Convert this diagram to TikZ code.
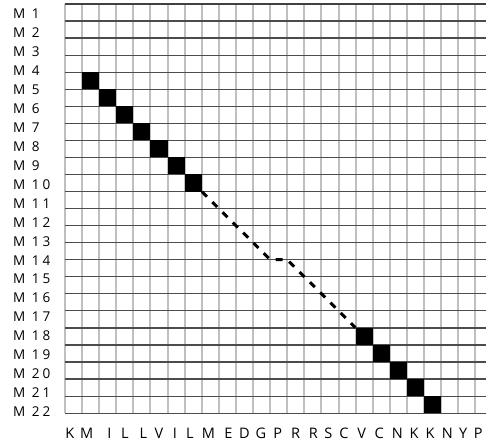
\documentclass[tikz,border=0pt]{standalone}
\usepackage{fontspec}
\setmainfont{Open Sans}[LetterSpace=22]

\begin{document}
\begin{tikzpicture}[x=0.6cm, y=0.5982cm,
  cell/.style={fill=black, inner sep=0pt, minimum width=0.6cm, minimum height=0.5982cm},
  rowlabel/.style={anchor=west, inner sep=0pt, font=\fontsize{13.5}{13.5}\selectfont},
  collabel/.style={inner sep=0pt, font=\fontsize{14.5}{14.5}\selectfont},
  trace/.style={line width=3pt, dash pattern=on 7pt off 7.5pt}]
  \useasboundingbox (-3.801,-25.69) rectangle (24.62,0.2346);

  % grid
  \foreach \i in {0,...,24}
    \draw[gray!50, line width=2pt] (\i,0) -- (\i,-24);
  \foreach \j in {1,...,24}
    \draw[black!70, line width=1.2pt] (0,-\j) -- (24.62,-\j);
  \draw[black!75, line width=1.5pt] (0,0) -- (24.62,0);

  % matching cells
  \foreach \k in {5,...,11}
    \node[cell] (s\k) at (\k-3.5, -\k+0.5) {};
  \foreach \k in {20,...,24}
    \node[cell] (s\k) at (\k-2.5, -\k+0.5) {};

  % gap
  \coordinate (b1) at (12,-15);
  \coordinate (b2) at (13,-15);
  \draw[trace] (s11.south east) -- (b1) -- (b2) -- (s20.north west);

  % labels
  \foreach \n in {1,...,22}
    \node[rowlabel] (m\n) at (-3.041, {-0.5865-(\n-1)*1.1109}) {M \n};
  \foreach \l/\x [count=\i] in {K/0.29, M/1.27, I/2.59, L/3.51, L/4.58, V/5.50,
      I/6.43, L/7.31, M/8.39, E/9.55, D/10.49, G/11.46, P/12.44, R/13.49,
      R/14.52, S/15.40, C/16.32, V/17.35, C/18.38, N/19.43, K/20.41,
      K/21.35, N/22.36, Y/23.29, P/24.17}
    \node[collabel] (c\i) at (\x, -25.18) {\l};
\end{tikzpicture}
\end{document}
